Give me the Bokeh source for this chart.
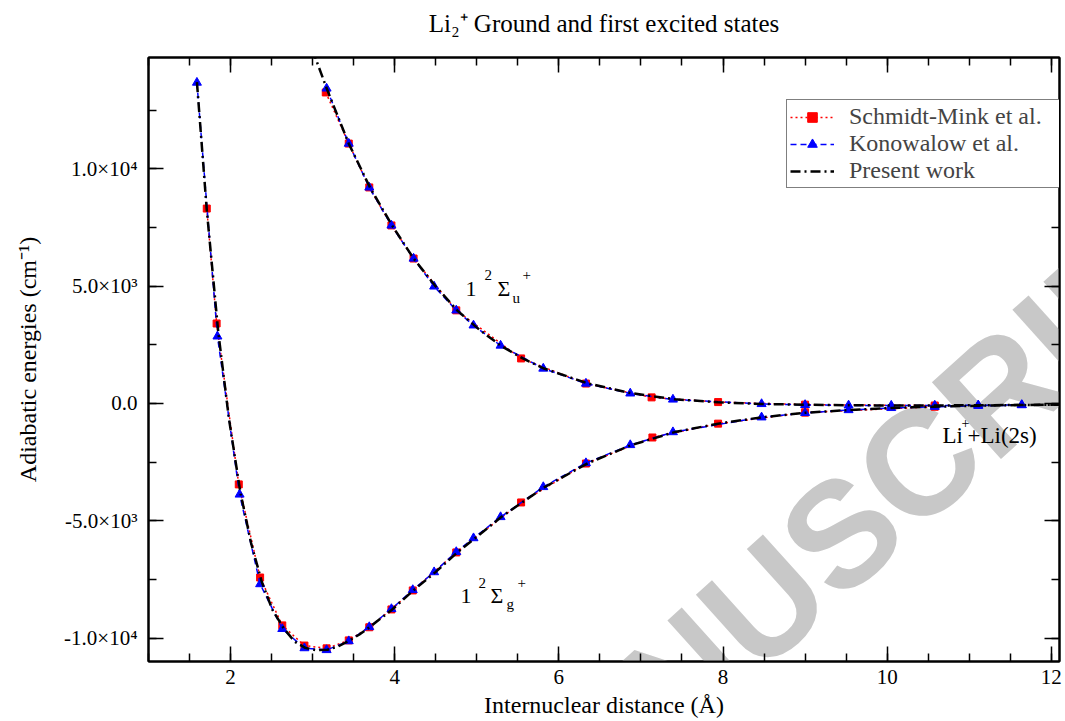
import math
from bokeh.plotting import figure
from bokeh.models import (LinearAxis, SingleIntervalTicker, Range1d, Label,
                          Legend, LegendItem, CustomJSTickFormatter)
from bokeh.embed import file_html
from bokeh.resources import INLINE

# ---------------- data (internuclear distance in Angstrom, energy in cm^-1) -------------
# Present work (black dash-dot line)
pw_ground_r = [1.59, 1.71, 1.85, 1.98, 2.12, 2.25, 2.38, 2.51, 2.65, 2.78, 2.91, 3.04,
               3.18, 3.31, 3.44, 3.57, 3.70, 3.97, 4.23, 4.50, 4.76, 5.03, 5.29, 5.56,
               5.82, 6.35, 6.88, 7.41, 7.94, 8.47, 9.00, 9.53, 10.05, 10.58, 11.11,
               11.64, 12.17]
pw_ground_e = [13700, 8250, 3050, -650, -3800, -5950, -7600, -8800, -9600, -10150,
               -10420, -10520, -10500, -10360, -10120, -9850, -9520, -8780, -7960,
               -7180, -6360, -5600, -4860, -4200, -3580, -2550, -1780, -1220, -860,
               -590, -400, -280, -190, -135, -95, -65, -45]
pw_excited_r = [2.91, 3.18, 3.44, 3.70, 3.97, 4.23, 4.50, 4.76, 5.03, 5.29, 5.56, 5.82,
                6.35, 6.88, 7.41, 7.94, 8.47, 9.00, 9.53, 10.05, 10.58, 11.11, 11.64,
                12.17]
pw_excited_e = [15900, 13350, 11080, 9200, 7580, 6180, 4990, 3970, 3150, 2470, 1920,
                1490, 860, 440, 180, 50, -20, -55, -75, -85, -85, -75, -65, -50]

# Schmidt-Mink et al. (red squares, dotted)
sm_ground_r = [1.71, 1.83, 2.10, 2.36, 2.63, 2.90, 3.17, 3.44, 3.69, 3.96, 4.22, 4.75,
               5.54, 6.33, 7.14, 7.94, 9.00, 10.58]
sm_ground_e = [8310, 3410, -3450, -7420, -9460, -10320, -10440, -10100, -9540, -8780,
               -7970, -6350, -4220, -2560, -1450, -860, -390, -140]
sm_excited_r = [3.16, 3.44, 3.69, 3.96, 4.23, 4.75, 5.54, 6.33, 7.13, 7.94, 9.00, 10.58]
sm_excited_e = [13260, 11080, 9210, 7590, 6180, 3970, 1920, 850, 260, 60, -50, -85]

# Konowalow et al. (blue triangles, dashed)
ko_ground_r = [1.59, 1.84, 2.11, 2.36, 2.63, 2.90, 3.17, 3.44, 3.69, 3.96, 4.22, 4.48,
               4.75, 4.96, 5.29, 5.81, 6.33, 6.87, 7.39, 8.47, 9.00, 9.53, 10.05, 10.58,
               11.11, 11.64]
ko_ground_e = [13680, 2860, -3880, -7700, -9610, -10430, -10510, -10130, -9530, -8760,
               -7950, -7190, -6330, -5740, -4840, -3560, -2540, -1770, -1220, -590, -400,
               -280, -190, -140, -100, -70]
ko_excited_r = [3.17, 3.44, 3.69, 3.96, 4.23, 4.48, 4.75, 4.96, 5.29, 5.81, 6.33, 6.87,
                7.39, 8.47, 9.00, 9.53, 10.05, 10.58, 11.11, 11.64]
ko_excited_e = [13430, 11080, 9210, 7590, 6180, 4990, 3970, 3330, 2470, 1490, 850, 430,
                170, -20, -60, -80, -90, -85, -75, -60]

series_labels = ["Schmidt-Mink et al.", "Konowalow et al.", "Present work"]

# tick labels
y_tick_values = [-10000, -5000, 0, 5000, 10000]
y_tick_labels = ["-1.0\u00d710\u2074", "-5.0\u00d710\u00b3", "0.0",
                 "5.0\u00d710\u00b3", "1.0\u00d710\u2074"]

title_text = "Li\u2082\u207a Ground and first excited states"
x_title = "Internuclear distance (\u00c5)"
y_title = "Adiabatic energies (cm\u207b\u00b9)"

# ---------------- figure ----------------
SERIF = "Liberation Serif"
p = figure(width=1065, height=721, x_range=Range1d(1, 12.1),
           y_range=Range1d(-11000, 14750), output_backend="svg",
           toolbar_location=None, min_border_left=148, min_border_right=6,
           min_border_top=57, min_border_bottom=60)
p.xgrid.visible = False
p.ygrid.visible = False
p.outline_line_color = "black"
p.outline_line_width = 2
p.background_fill_color = "white"
p.border_fill_color = "white"

blank = CustomJSTickFormatter(code="return ''")
top_axis = LinearAxis(formatter=blank)
right_axis = LinearAxis(formatter=blank)
p.add_layout(top_axis, "above")
p.add_layout(right_axis, "right")

for ax in p.xaxis:
    ax.ticker = SingleIntervalTicker(interval=2, num_minor_ticks=4)
for ax in p.yaxis:
    ax.ticker = SingleIntervalTicker(interval=5000, num_minor_ticks=2)

for ax in list(p.xaxis) + list(p.yaxis):
    ax.axis_line_width = 2
    ax.axis_line_color = "black"
    ax.major_tick_in = 15
    ax.major_tick_out = 0
    ax.minor_tick_in = 8
    ax.minor_tick_out = 0
    ax.major_tick_line_width = 1.5
    ax.minor_tick_line_width = 1.5
    ax.major_tick_line_color = "black"
    ax.minor_tick_line_color = "black"
    ax.major_label_text_font = SERIF
    ax.major_label_text_color = "black"
    ax.major_label_text_font_size = "21px"
    ax.axis_label_text_font = SERIF
    ax.axis_label_text_font_size = "24px"
    ax.axis_label_text_font_style = "normal"
    ax.axis_label_text_color = "black"

# chart title carried by the (label-less) top axis
top_axis.major_label_text_font_size = "1px"
top_axis.major_label_standoff = 0
top_axis.axis_label = title_text
top_axis.axis_label_text_font_size = "25px"
top_axis.axis_label_standoff = 21
right_axis.major_label_text_font_size = "1px"
right_axis.major_label_standoff = 0

bx = p.below[0]
bx.major_label_standoff = 8
bx.axis_label = x_title
bx.axis_label_standoff = 5

ly = p.left[0]
ly.major_label_standoff = 11
ly.major_label_overrides = {v: s for v, s in zip(y_tick_values, y_tick_labels)}
ly.axis_label = y_title
ly.axis_label_standoff = 20

# ---------------- data glyphs ----------------
sm_l1 = p.line(sm_ground_r, sm_ground_e, line_color="red", line_dash="2 3", line_width=1.5)
sm_l2 = p.line(sm_excited_r, sm_excited_e, line_color="red", line_dash="2 3", line_width=1.5)
sm_s1 = p.scatter(sm_ground_r, sm_ground_e, marker="square", size=7, color="red")
sm_s2 = p.scatter(sm_excited_r, sm_excited_e, marker="square", size=7, color="red")

ko_l1 = p.line(ko_ground_r, ko_ground_e, line_color="blue", line_dash="6 4", line_width=1.5)
ko_l2 = p.line(ko_excited_r, ko_excited_e, line_color="blue", line_dash="6 4", line_width=1.5)
ko_s1 = p.scatter(ko_ground_r, ko_ground_e, marker="triangle", size=9, color="blue")
ko_s2 = p.scatter(ko_excited_r, ko_excited_e, marker="triangle", size=9, color="blue")

pw_l1 = p.line(pw_ground_r, pw_ground_e, line_color="black", line_dash="10 4 2 4", line_width=2.5)
pw_l2 = p.line(pw_excited_r, pw_excited_e, line_color="black", line_dash="10 4 2 4", line_width=2.5)

legend = Legend(items=[
    LegendItem(label=series_labels[0], renderers=[sm_l1, sm_s1]),
    LegendItem(label=series_labels[1], renderers=[ko_l1, ko_s1]),
    LegendItem(label=series_labels[2], renderers=[pw_l1]),
], location=(638, 473), margin=0, padding=3, spacing=-2,
    glyph_width=44, glyph_height=24, label_height=24, label_standoff=15,
    label_width=207,
    label_text_font=SERIF, label_text_font_size="24px",
    border_line_color="black", border_line_width=1.5,
    background_fill_color="white", background_fill_alpha=1.0)
p.add_layout(legend)

# ---------------- texts inside the frame ----------------
FL, FB = 148, 661   # page position of frame left / bottom edge


def txt(s, xp, yp, size, angle=0.0, align="left", font=SERIF, color="black",
        style="normal", level="annotation"):
    p.add_layout(Label(x=xp - FL, y=FB - yp, x_units="screen", y_units="screen",
                       text=s, text_font=font, text_font_size=f"{size}px",
                       text_align=align, text_baseline="alphabetic", angle=angle,
                       text_color=color, text_font_style=style, level=level))


# watermark
txt("MANUSCRIPT", 469, 867, 150, angle=math.radians(42), font="Liberation Sans",
    color="#c8c8c8", style="bold", level="underlay")

# state labels
txt("1", 465, 288, 22)
txt("2", 484, 274, 15)
txt("\u03a3", 497, 288, 22)
txt("u", 512, 297, 15)
txt("+", 522, 274, 15)

txt("1", 460, 595, 22)
txt("2", 478, 582, 15)
txt("\u03a3", 490, 595, 22)
txt("g", 506, 603, 15)
txt("+", 517, 582, 15)

txt("Li", 942, 435, 23)
txt("+", 961, 422, 14)
txt("+Li(2s)", 967, 435, 23)

open("out.html", "w").write(file_html(p, INLINE))
